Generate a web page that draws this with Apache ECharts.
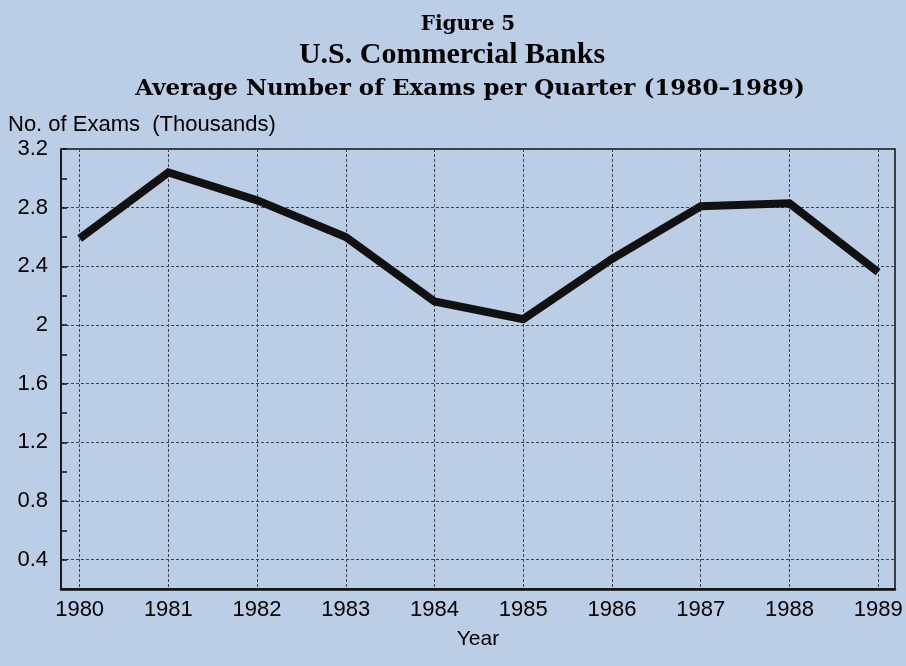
<!DOCTYPE html>
<html>
<head>
<meta charset="utf-8">
<script src="https://cdn.jsdelivr.net/npm/echarts@6/dist/echarts.min.js"></script>
<style>
  html, body { margin: 0; padding: 0; background: #bccde6; }
  #chart { width: 906px; height: 666px; }
</style>
</head>
<body>
<div id="chart"></div>
<script>
// Figure 5 - U.S. Commercial Banks, average number of exams per quarter
const years = [1980, 1981, 1982, 1983, 1984, 1985, 1986, 1987, 1988, 1989];
const examsThousands = [2.59, 3.04, 2.85, 2.60, 2.16, 2.04, 2.45, 2.81, 2.83, 2.36];
const yLabelValues = [0.4, 0.8, 1.2, 1.6, 2, 2.4, 2.8, 3.2];

const chart = echarts.init(document.getElementById('chart'));

const seriesData = years.map((y, i) => [y, examsThousands[i]]);

const option = {
  backgroundColor: '#bccde6',
  animation: false,
  title: [
    {
      text: 'Figure 5',
      left: 468, top: 15, textAlign: 'center', padding: 0,
      textStyle: { fontFamily: 'DejaVu Serif', fontWeight: 'bold', fontSize: 20, color: '#000' }
    },
    {
      text: 'U.S. Commercial Banks',
      left: 452, top: 40, textAlign: 'center', padding: 0,
      textStyle: { fontFamily: 'Liberation Serif', fontWeight: 'bold', fontSize: 30, color: '#000' }
    },
    {
      text: 'Average Number of Exams per Quarter (1980\u20131989)',
      left: 470, top: 78, textAlign: 'center', padding: 0,
      textStyle: { fontFamily: 'DejaVu Serif', fontWeight: 'bold', fontSize: 23, color: '#000' }
    },
    {
      text: 'No. of Exams  (Thousands)',
      left: 8, top: 114, padding: 0,
      textStyle: { fontFamily: 'Liberation Sans', fontWeight: 'normal', fontSize: 22, color: '#000' }
    }
  ],
  grid: {
    left: 61, right: 11, top: 149, bottom: 77,
    show: true, borderColor: '#111', borderWidth: 1.5,
    backgroundColor: 'transparent'
  },
  xAxis: {
    type: 'value',
    min: 1979.79, max: 1989.19,
    name: 'Year',
    nameLocation: 'middle',
    nameGap: 40,
    nameTextStyle: { fontFamily: 'Liberation Sans', fontSize: 21, color: '#000' },
    axisLine: { show: true, lineStyle: { color: '#111', width: 2.5 } },
    axisTick: { show: false, customValues: years },
    axisLabel: {
      customValues: years,
      margin: 10,
      fontFamily: 'Liberation Sans', fontSize: 22, color: '#000',
      formatter: v => String(v)
    },
    splitLine: { show: true, lineStyle: { color: '#3c4352', width: 1, type: [3, 2] } }
  },
  yAxis: {
    type: 'value',
    min: 0.2, max: 3.2, interval: 0.2,
    axisLine: { show: true, lineStyle: { color: '#111', width: 1.5 } },
    axisTick: { show: true, inside: true, length: 6, lineStyle: { color: '#111', width: 1.5 } },
    axisLabel: {
      margin: 13,
      fontFamily: 'Liberation Sans', fontSize: 22, color: '#000',
      formatter: v => {
        const r = Math.round(v * 10) / 10;
        return yLabelValues.some(t => Math.abs(t - r) < 1e-6) ? String(r) : '';
      }
    },
    splitLine: {
      show: true,
      lineStyle: { color: ['transparent', '#3c4352'], width: 1, type: [3, 2] }
    }
  },
  series: [
    {
      type: 'line',
      data: seriesData,
      symbol: 'none',
      lineStyle: { color: '#111', width: 8, join: 'miter' }
    }
  ]
};

chart.setOption(option);
</script>
</body>
</html>
